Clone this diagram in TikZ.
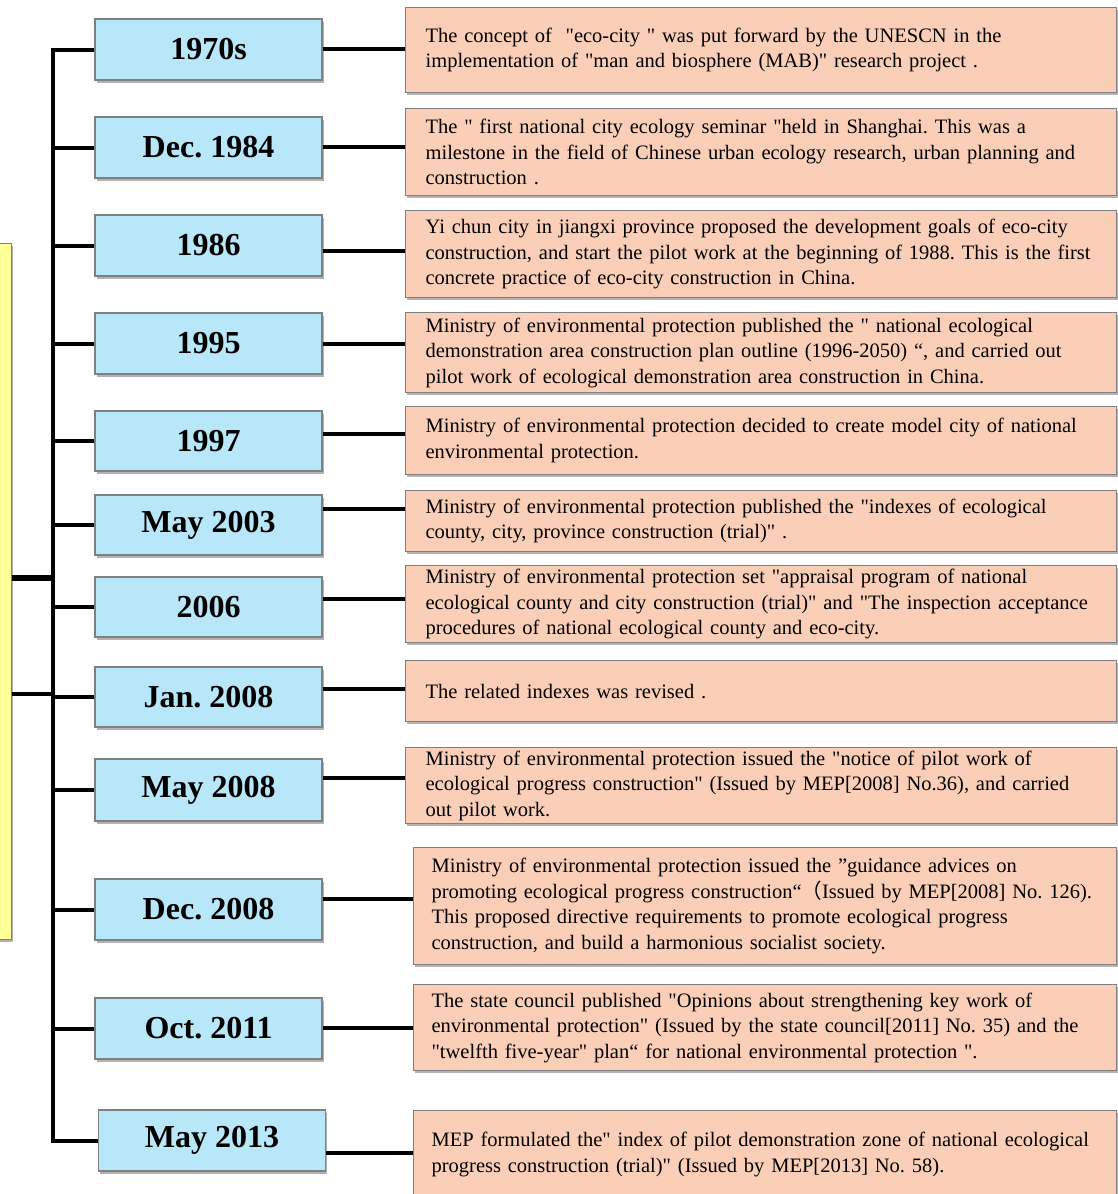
\documentclass[tikz,border=0pt]{standalone}
\usepackage{fontspec}
\setmainfont{Liberation Serif}[Ligatures=TeXOff]
\newfontfamily\cjk{Noto Sans CJK SC}
\usetikzlibrary{shadows}
\definecolor{dateblue}{RGB}{183,231,249}
\definecolor{eventorange}{RGB}{251,207,183}
\definecolor{noteyellow}{RGB}{255,255,153}
\definecolor{boxgray}{RGB}{128,128,128}
\newcommand\evl[1]{\mbox{#1}}
\frenchspacing
\begin{document}
\begin{tikzpicture}[x=1pt,y=-1pt,
  myshadow/.style={drop shadow={shadow xshift=1.5pt,shadow yshift=-2.5pt,fill=black,opacity=0.3}},
  datebox/.style={draw=boxgray,line width=1.2pt,fill=dateblue,minimum width=227pt,minimum height=61pt,
    inner sep=0pt,font=\fontsize{32}{38}\selectfont\bfseries,myshadow},
  eventbox/.style={draw=boxgray,line width=1.2pt,fill=eventorange,anchor=north west,align=left,
    inner ysep=0pt,font=\fontsize{20.5}{25.5}\selectfont\frenchspacing,myshadow},
  eventA/.style={eventbox,inner xsep=20pt,text width=671pt},
  eventB/.style={eventbox,inner xsep=18pt,text width=667pt},
  notebox/.style={draw=boxgray,line width=1.2pt,fill=noteyellow,anchor=north east,myshadow},
  link/.style={line width=4pt}]
\useasboundingbox (0,0) rectangle (1117,1194);

% yellow box (cut at left edge)
\node[notebox,minimum width=60pt,minimum height=696pt] (yl) at (12,243) {};

% date boxes
\node[datebox] (b1) at (208.5,49.5) {1970s};
\node[datebox] (b2) at (208.5,147.5) {Dec. 1984};
\node[datebox] (b3) at (208.5,245.5) {1986};
\node[datebox] (b4) at (208.5,343.5) {1995};
\node[datebox,minimum height=60pt] (b5) at (208.5,441) {1997};
\node[datebox,minimum height=60pt] (b6) at (208.5,525) {May 2003};
\node[datebox,minimum height=60pt] (b7) at (208.5,607) {2006};
\node[datebox,minimum height=60pt] (b8) at (208.5,697) {Jan. 2008};
\node[datebox,minimum height=62pt] (b9) at (208.5,790) {May 2008};
\node[datebox] (b10) at (208.5,909.5) {Dec. 2008};
\node[datebox] (b11) at (208.5,1028.5) {Oct. 2011};
\node[datebox] (b12) at (212,1140.5) {May 2013};

% event boxes
\node[eventA,minimum height=85pt] (o1) at (405,7) {\evl{The concept of\ \ "eco-city " was put forward by the UNESCN in the}\\\evl{implementation of "man and biosphere (MAB)" research project .}};
\node[eventA,minimum height=87pt] (o2) at (405,108) {\evl{The " first national city ecology seminar "held in Shanghai. This was a}\\\evl{milestone in the field of Chinese urban ecology research, urban planning and}\\\evl{construction .}};
\node[eventA,minimum height=87pt] (o3) at (405,210) {\evl{Yi chun city in jiangxi province proposed the development goals of eco-city}\\\evl{construction, and start the pilot work at the beginning of 1988. This is the first}\\\evl{concrete practice of eco-city construction in China.}};
\node[eventA,minimum height=80pt] (o4) at (405,312) {\evl{Ministry of environmental protection published the " national ecological}\\\evl{demonstration area construction plan outline (1996-2050) “, and carried out}\\\evl{pilot work of ecological demonstration area construction in China.}};
\node[eventA,minimum height=68pt] (o5) at (405,406) {\evl{Ministry of environmental protection decided to create model city of national}\\\evl{environmental protection.}};
\node[eventA,minimum height=61pt] (o6) at (405,490) {\evl{Ministry of environmental protection published the "indexes of ecological}\\\evl{county, city, province construction (trial)" .}};
\node[eventA,minimum height=77pt] (o7) at (405,565) {\evl{Ministry of environmental protection set "appraisal program of national}\\\evl{ecological county and city construction (trial)" and "The inspection acceptance}\\\evl{procedures of national ecological county and eco-city.}};
\node[eventA,minimum height=61pt] (o8) at (405,660) {\evl{The related indexes was revised .}};
\node[eventA,minimum height=76pt] (o9) at (405,747) {\evl{Ministry of environmental protection issued the "notice of pilot work of}\\\evl{ecological progress construction" (Issued by MEP[2008] No.36), and carried}\\\evl{out pilot work.}};
\node[eventB,minimum height=117pt] (o10) at (413,847) {\evl{Ministry of environmental protection issued the ”guidance advices on}\\\evl{promoting ecological progress construction“{\cjk （}Issued by MEP[2008] No. 126).}\\\evl{This proposed directive requirements to promote ecological progress}\\\evl{construction, and build a harmonious socialist society.}};
\node[eventB,minimum height=86pt] (o11) at (413,984) {\evl{The state council published "Opinions about strengthening key work of}\\\evl{environmental protection" (Issued by the state council[2011] No. 35) and the}\\\evl{"twelfth five-year" plan“ for national environmental protection ".}};
\node[eventB,minimum height=88pt] (o12) at (413,1110) {\evl{MEP formulated the" index of pilot demonstration zone of national ecological}\\\evl{progress construction (trial)" (Issued by MEP[2013] No. 58).}};

% trunk and branches
\coordinate (trunk) at (53.3,0);
\draw[link,line join=miter] (b1.west) -- (b1.west -| trunk) -- (b12.west -| trunk) -- (b12.west);
\foreach \i in {2,...,11} \draw[link] (b\i.west) -- (b\i.west -| trunk);

% links from the yellow box
\coordinate (ya) at (0,578);
\coordinate (yb) at (0,694);
\draw[line width=5.5pt] (yl.east |- ya) -- ([xshift=2pt]trunk |- ya);
\draw[link] (yl.east |- yb) -- (trunk |- yb);

% links to event boxes
\foreach \i/\y in {1/49,2/147,3/251,4/344,5/434,6/509,7/599,8/689,9/778,10/899,11/1028,12/1153} {
  \coordinate (r\i) at (0,\y);
  \draw[link] (b\i.east |- r\i) -- (o\i.west |- r\i);
}
\end{tikzpicture}
\end{document}
